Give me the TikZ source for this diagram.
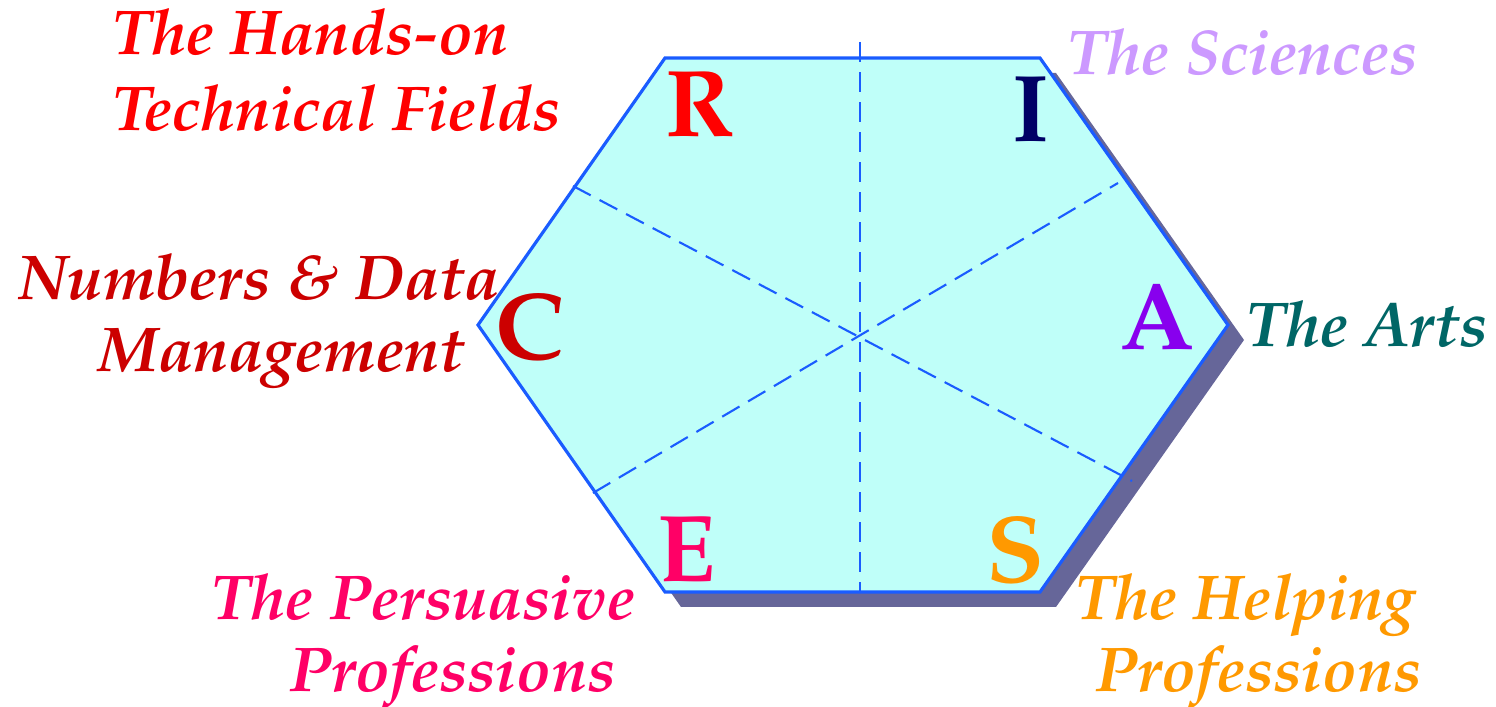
\documentclass[tikz,border=0pt]{standalone}
\usepackage[T1]{fontenc}
\usepackage{mathpazo}
\usepackage{tikz}
\usetikzlibrary{positioning}

\definecolor{hexfill}{HTML}{BFFFF9}
\definecolor{hexline}{HTML}{1A5CFF}
\definecolor{hexshadow}{HTML}{666699}
\definecolor{realistic}{HTML}{FF0000}
\definecolor{investigative}{HTML}{000066}
\definecolor{artistic}{HTML}{8800EE}
\definecolor{social}{HTML}{FF9900}
\definecolor{enterprising}{HTML}{FF0066}
\definecolor{conventional}{HTML}{CC0000}
\definecolor{sciences}{HTML}{CC99FF}
\definecolor{arts}{HTML}{006666}

\begin{document}
\begin{tikzpicture}[
        x=0.01cm, y=-0.01cm,
        letter/.style={anchor=base, inner sep=0pt, font=\fontsize{27}{30}\selectfont\bfseries},
        field/.style={inner sep=0pt, font=\fontsize{18}{21.6}\selectfont\bfseries\itshape},
        divider/.style={hexline, line width=0.6pt, dash pattern=on 0.2cm off 0.1cm}
    ]
    \useasboundingbox (0,0) rectangle (1496,707);

    % hexagon corners
    \coordinate (tl) at (665,58);
    \coordinate (tr) at (1040,58);
    \coordinate (rr) at (1228,325);
    \coordinate (br) at (1040,592);
    \coordinate (bl) at (665,592);
    \coordinate (ll) at (478,325);
    \coordinate (mid) at (860,337);

    % shadow, then hexagon
    \fill[hexshadow] ([shift={(16,15)}]tl) -- ([shift={(16,15)}]tr) -- ([shift={(16,15)}]rr)
        -- ([shift={(16,15)}]br) -- ([shift={(16,15)}]bl) -- ([shift={(16,15)}]ll) -- cycle;
    \filldraw[fill=hexfill, draw=hexline, line width=0.9pt, line join=miter]
        (tl) -- (tr) -- (rr) -- (br) -- (bl) -- (ll) -- cycle;

    % dashed dividers
    \coordinate (vtop) at (860,42);
    \coordinate (vbot) at (860,592);
    \coordinate (d1a) at (573,186);
    \coordinate (d1b) at (1132,481);
    \coordinate (d2a) at (593,493);
    \coordinate (d2b) at (1118,183);
    \draw[divider] (vtop) -- (vbot);
    \draw[divider] (d1a) -- (d1b);
    \draw[divider] (d2a) -- (d2b);

    % the six letters
    \node[letter, text=realistic] (R) at (700,137) {R};
    \node[letter, text=investigative] (I) at (1031,142) {I};
    \node[letter, text=artistic] (A) at (1157,350) {A};
    \node[letter, text=social] (S) at (1015,583) {S};
    \node[letter, text=enterprising] (E) at (687,582) {E};
    \node[letter, text=conventional] (C) at (530,360) {C};

    % field names
    \node[field, anchor=base west, text=realistic] (r1) at (112,55) {The Hands-on};
    \node[field, anchor=base west, text=realistic] (r2) at (112,131) {Technical Fields};
    \node[field, anchor=base east, text=sciences] (i1) at (1418,75) {The Sciences};
    \node[field, anchor=base east, text=arts] (a1) at (1488,347) {The Arts};
    \node[field, anchor=base east, text=conventional] (c1) at (500,300) {Numbers \& Data};
    \node[field, anchor=base east, text=conventional] (c2) at (465,372) {Management};
    \node[field, anchor=base east, text=enterprising] (e1) at (636,620) {The Persuasive};
    \node[field, anchor=base east, text=enterprising] (e2) at (616,692) {Professions};
    \node[field, anchor=base east, text=social] (s1) at (1416,620) {The Helping};
    \node[field, anchor=base east, text=social] (s2) at (1422,692) {Professions};
\end{tikzpicture}
\end{document}
